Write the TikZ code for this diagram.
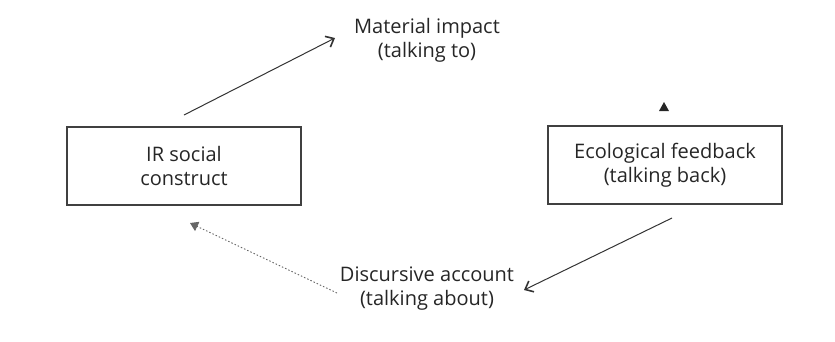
\documentclass[tikz,border=0pt]{standalone}
\usepackage{fontspec}
\setmainfont{Open Sans}
\usetikzlibrary{arrows.meta,calc}
\begin{document}
\begin{tikzpicture}[x=1pt,y=-1pt,
  boxst/.style={draw=black!75, line width=1.3pt, minimum width=234pt, minimum height=78pt, align=center, inner sep=0pt},
  lbl/.style={align=center, inner sep=0pt},
  txt/.style={font=\fontsize{20}{24}\selectfont, text=black!85},
  arr/.style={draw=black!80, line width=1pt, -{Straight Barb[length=7pt,width=12pt,line width=1.6pt]}},
  dotarr/.style={draw=black!60, line width=0.9pt, dash pattern=on 1.5pt off 2pt, -{Triangle[length=8pt,width=10pt]}}
]
\useasboundingbox (0,0) rectangle (835,341);
\node[boxst, txt] (ir) at (184,166) {IR social\\construct};
\node[boxst, txt] (eco) at (665,165) {Ecological feedback\\(talking back)};
\node[lbl, txt] (mat) at (427,40) {Material impact\\(talking to)};
\node[lbl, txt] (dis) at (427,289) {Discursive account\\(talking about)};
\coordinate (a1s) at (184,115);
\coordinate (a1e) at (335,38);
\draw[arr] (a1s) -- (a1e);
\coordinate (a2s) at (672,218);
\coordinate (a2e) at (524,290);
\draw[arr] (a2s) -- (a2e);
\coordinate (a3s) at (337,293);
\coordinate (a3e) at (190,223);
\draw[dotarr] (a3s) -- (a3e);
\coordinate (tri) at (664,107);
\fill[black!85] ($(tri)+(0,-5)$) -- ($(tri)+(-5,4)$) -- ($(tri)+(5,4)$) -- cycle;
\end{tikzpicture}
\end{document}
